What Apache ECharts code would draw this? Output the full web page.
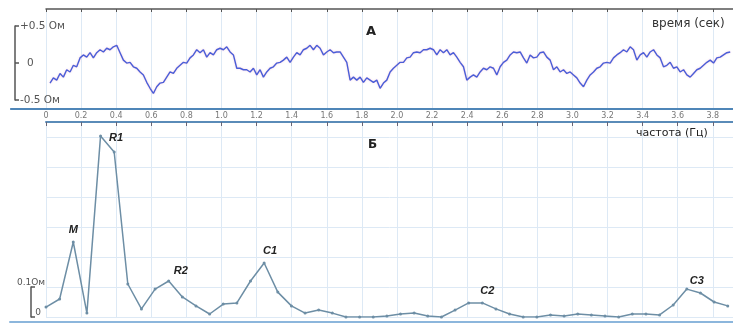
<!DOCTYPE html>
<html><head><meta charset="utf-8">
<script src="https://cdn.jsdelivr.net/npm/echarts@6/dist/echarts.min.js"></script>
<style>html,body{margin:0;padding:0;background:#fff}#c{width:733px;height:324px}</style>
</head><body><div id="c"></div>
<script>
// ---- data ----
const timeStart = 0.023;   // s, first sample
const timeStep = 0.019;    // s between samples
const signalValues = [
 -0.27,-0.20,-0.23,-0.14,-0.19,-0.09,-0.12,-0.03,-0.05,0.07,
 0.11,0.08,0.14,0.07,0.14,0.18,0.15,0.20,0.18,0.22,
 0.24,0.14,0.04,0.00,0.01,-0.05,-0.07,-0.12,-0.16,-0.26,
 -0.34,-0.41,-0.32,-0.27,-0.26,-0.19,-0.12,-0.14,-0.07,-0.03,
 0.01,0.00,0.07,0.11,0.18,0.14,0.18,0.08,0.14,0.11,
 0.18,0.20,0.18,0.22,0.15,0.11,-0.07,-0.07,-0.09,-0.09,
 -0.12,-0.07,-0.16,-0.09,-0.19,-0.12,-0.07,-0.05,0.00,0.01,
 0.04,0.08,0.01,0.08,0.14,0.11,0.18,0.20,0.24,0.18,
 0.24,0.20,0.11,0.15,0.18,0.14,0.15,0.15,0.08,0.01,
 -0.23,-0.19,-0.23,-0.19,-0.26,-0.20,-0.23,-0.26,-0.23,-0.34,
 -0.27,-0.23,-0.12,-0.07,-0.03,0.01,0.01,0.07,0.08,0.14,
 0.15,0.14,0.18,0.18,0.20,0.18,0.11,0.18,0.14,0.18,
 0.11,0.14,0.08,0.01,-0.05,-0.23,-0.19,-0.16,-0.19,-0.12,
 -0.07,-0.09,-0.05,-0.07,-0.16,-0.05,0.01,0.04,0.11,0.15,
 0.14,0.15,0.07,0.00,0.11,0.07,0.08,0.14,0.15,0.08,
 0.04,-0.09,-0.05,-0.12,-0.09,-0.14,-0.12,-0.16,-0.20,-0.27,
 -0.32,-0.23,-0.16,-0.12,-0.07,-0.05,0.00,0.01,0.00,0.07,
 0.11,0.14,0.18,0.15,0.22,0.18,0.04,0.11,0.14,0.08,
 0.15,0.18,0.11,0.07,-0.05,-0.03,0.01,-0.07,-0.05,-0.12,
 -0.09,-0.16,-0.19,-0.14,-0.09,-0.07,-0.03,0.01,0.04,0.00,
 0.07,0.08,0.11,0.14,0.15
];
const freqStep = 0.0777;
const spectrumValues = [
 0.033,0.060,0.250,0.013,0.603,0.550,0.110,0.027,0.093,0.120,
 0.067,0.037,0.010,0.043,0.047,0.120,0.180,0.083,0.037,0.013,
 0.023,0.013,0.000,0.000,0.000,0.003,0.010,0.013,0.003,0.000,
 0.023,0.047,0.047,0.027,0.010,0.000,0.000,0.007,0.003,0.010,
 0.007,0.003,0.000,0.010,0.010,0.007,0.040,0.093,0.080,0.050,
 0.037
];
const peakIndex = [2, 4, 9, 16, 32, 47];
const peakNames = ['M', 'R1', 'R2', 'C1', 'C2', 'C3'];
const timeMax = 3.915;
const ampLabels = {'0.5': '+0.5 Ом', '0': '{z|0}', '-0.5': '-0.5 Ом'};
const specScaleLabels = {'0.1': '0.1Ом', '0': '0'};

// ---- chart ----
const peakStyle = {
  M:  {position: 'top', offset: [0, 0]},
  R1: {position: 'right', offset: [2, 2]},
  R2: {position: 'top', offset: [12, 2]},
  C1: {position: 'top', offset: [6, 0]},
  C2: {position: 'top', offset: [5, 0]},
  C3: {position: 'top', offset: [10, 4]}
};
const specData = spectrumValues.map((v, i) => {
  const k = peakIndex.indexOf(i);
  if (k < 0) return [i * freqStep, v];
  const nm = peakNames[k];
  return {value: [i * freqStep, v], label: Object.assign({show: true, formatter: nm, distance: 5,
    fontSize: 11, fontWeight: 'bold', fontStyle: 'italic', color: '#222', fontFamily: 'Liberation Sans'}, peakStyle[nm])};
});
const sigData = signalValues.map((v, k) => [timeStart + k * timeStep, v]);

const grayLine = '#555';
const gridBlue = '#dde9f5';
const chart = echarts.init(document.getElementById('c'), null, {renderer: 'canvas'});
chart.setOption({
  animation: false,
  backgroundColor: '#fff',
  textStyle: {fontFamily: 'DejaVu Sans'},
  title: [
    {text: 'А', left: 366, top: 25, padding: 0, textStyle: {fontSize: 13, fontWeight: 'bold', color: '#222'}},
    {text: 'Б', left: 368, top: 139, padding: 0, textStyle: {fontSize: 12, fontWeight: 'bold', color: '#222'}},
    {text: 'время (сек)', left: 652, top: 18, padding: 0, textStyle: {fontSize: 12, fontWeight: 'normal', color: '#333'}},
    {text: 'частота (Гц)', left: 636, top: 128, padding: 0, textStyle: {fontSize: 11, fontWeight: 'normal', color: '#222'}}
  ],
  grid: [
    {left: 46, right: 0, top: 9, height: 100},
    {left: 10.9, right: 0, top: 9, height: 100},
    {left: 46, right: 0, top: 122, height: 195},
    {left: 10, right: 0, top: 122, height: 195},
    {left: 15, width: 20, top: 26, height: 74},
    {left: 31, width: 20, top: 287, height: 30}
  ],
  xAxis: [
    {gridIndex: 0, type: 'value', position: 'top', min: 0, max: timeMax, interval: 0.2,
     axisLine: {onZero: false, lineStyle: {color: grayLine, width: 1.5}}, axisTick: {inside: true, length: 3, lineStyle: {color: grayLine}},
     axisLabel: {show: false}, splitLine: {show: true, lineStyle: {color: gridBlue, width: 1}}},
    {gridIndex: 1, type: 'value', position: 'bottom', min: -0.2, max: timeMax, interval: 0.2,
     axisLine: {onZero: false, lineStyle: {color: '#4f86b8', width: 2}}, axisTick: {show: false},
     axisLabel: {margin: 3, fontSize: 8, color: '#777', showMinLabel: false, showMaxLabel: false,
       formatter: v => (v > 3.85 || v < 0) ? '' : (Math.abs(v) < 1e-9 ? '0' : v.toFixed(1))},
     splitLine: {show: false}},
    {gridIndex: 2, type: 'value', position: 'top', min: 0, max: timeMax, interval: 0.2,
     axisLine: {onZero: false, lineStyle: {color: '#5a8bb8', width: 2}}, axisTick: {inside: true, length: 4, lineStyle: {color: '#667'}},
     axisLabel: {show: false}, splitLine: {show: true, lineStyle: {color: gridBlue, width: 1}}},
    {gridIndex: 3, type: 'value', position: 'bottom', offset: 5, min: 0, max: 1,
     axisLine: {onZero: false, lineStyle: {color: '#8cb6dc', width: 2}}, axisTick: {show: false}, axisLabel: {show: false}, splitLine: {show: false}},
    {gridIndex: 4, type: 'value', show: false, min: 0, max: 1},
    {gridIndex: 5, type: 'value', show: false, min: 0, max: 1}
  ],
  yAxis: [
    {gridIndex: 0, type: 'value', show: false, min: -0.62, max: 0.73},
    {gridIndex: 1, type: 'value', show: false, min: 0, max: 1},
    {gridIndex: 2, type: 'value', min: 0, max: 0.65, interval: 0.1,
     axisLine: {show: false}, axisTick: {show: false}, axisLabel: {show: false},
     splitLine: {show: true, lineStyle: {color: gridBlue, width: 1}}},
    {gridIndex: 3, type: 'value', show: false, min: 0, max: 1},
    {gridIndex: 4, type: 'value', min: -0.5, max: 0.5, interval: 0.5,
     axisLine: {show: true, onZero: false, lineStyle: {color: grayLine, width: 1.5}},
     axisTick: {show: true, inside: true, length: 4, lineStyle: {color: grayLine, width: 1.5}},
     axisLabel: {inside: true, margin: 5, fontSize: 10.5, color: '#555',
       formatter: v => ampLabels[String(Math.round(v * 10) / 10)] || '',
       rich: {z: {padding: [0, 0, 0, 7], fontSize: 10.5, color: '#555'}}},
     splitLine: {show: false}},
    {gridIndex: 5, type: 'value', min: 0, max: 0.1, interval: 0.1,
     axisLine: {show: true, onZero: false, lineStyle: {color: grayLine, width: 1.5}},
     axisTick: {show: true, inside: true, length: 4, lineStyle: {color: grayLine, width: 1.5}},
     axisLabel: {inside: true, margin: 0, align: 'center', verticalAlign: 'bottom', fontSize: 9, color: '#555',
       formatter: v => v > 0.05 ? specScaleLabels['0.1'] : '{z|' + specScaleLabels['0'] + '}',
       rich: {z: {padding: [0, 0, 0, 14], fontSize: 9, color: '#555'}}},
     splitLine: {show: false}}
  ],
  series: [
    {type: 'line', xAxisIndex: 0, yAxisIndex: 0, data: sigData, showSymbol: false, symbol: 'none',
     lineStyle: {color: '#4a5ed8', width: 1.4, shadowColor: 'rgba(235,130,170,0.4)', shadowBlur: 2}},
    {type: 'line', xAxisIndex: 2, yAxisIndex: 2, data: specData, symbol: 'circle', symbolSize: 3,
     itemStyle: {color: '#6d8ea5'}, lineStyle: {color: '#6d8ea5', width: 1.5}}
  ]
});
</script>
</body></html>
